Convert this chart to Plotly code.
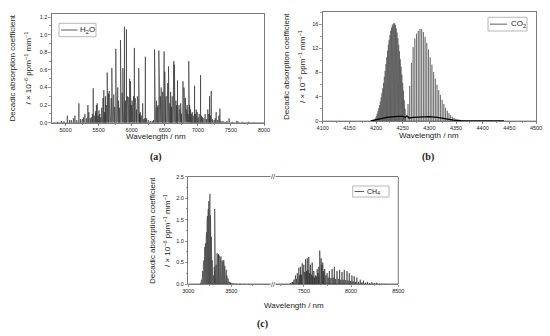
import plotly.graph_objects as go

W, H = 550, 336

# ---------------- data ----------------
# (a) H2O line positions (nm) and decadic absorption coefficients
h2o_nm = [4880, 4936, 4975, 5026, 5060, 5086, 5118, 5141, 5170, 5201, 5226, 5252, 5270, 5292, 5318,
          5337, 5352, 5372, 5388, 5405, 5418, 5435, 5453, 5466, 5478, 5492, 5505, 5518, 5532, 5545,
          5554, 5566, 5578, 5590, 5603, 5615, 5629, 5640, 5648, 5659, 5668, 5679, 5690, 5699, 5710,
          5720, 5729, 5742, 5759, 5768, 5778, 5789, 5800, 5812, 5830, 5840, 5855, 5866, 5876, 5890,
          5905, 5920, 5935, 5945, 5955, 5968, 5980, 5992, 6005, 6018, 6028, 6040, 6052, 6062, 6071,
          6085, 6096, 6106, 6118, 6131, 6145, 6166, 6182, 6197, 6206, 6225, 6250, 6280, 6310, 6330,
          6345, 6355, 6365, 6375, 6385, 6398, 6410, 6420, 6432, 6445, 6455, 6468, 6480, 6490, 6500,
          6512, 6522, 6535, 6545, 6556, 6565, 6576, 6588, 6600, 6612, 6625, 6636, 6645, 6655, 6668,
          6680, 6692, 6705, 6716, 6728, 6740, 6752, 6775, 6790, 6800, 6812, 6825, 6838, 6850, 6862,
          6875, 6888, 6900, 6915, 6930, 6950, 6962, 6975, 6990, 7005, 7020, 7041, 7055, 7070, 7090,
          7110, 7130, 7150, 7165, 7177, 7190, 7202, 7220, 7245, 7262, 7277, 7300, 7318, 7333, 7350,
          7380, 7410, 7440, 7468, 7478, 7520, 7590, 7605, 7680, 7765, 7850]
h2o_val = [0.01, 0.02, 0.015, 0.08, 0.03, 0.03, 0.05, 0.08, 0.03, 0.22, 0.04, 0.04, 0.06, 0.10, 0.05,
           0.20, 0.12, 0.05, 0.06, 0.10, 0.39, 0.08, 0.13, 0.20, 0.22, 0.08, 0.14, 0.10, 0.06, 0.17,
           0.12, 0.28, 0.37, 0.12, 0.30, 0.20, 0.57, 0.18, 0.33, 0.36, 0.12, 0.20, 0.28, 0.62, 0.15,
           0.25, 0.32, 0.18, 0.84, 0.22, 0.14, 0.40, 0.25, 0.17, 0.94, 0.30, 0.34, 0.62, 0.20, 1.09,
           0.25, 1.06, 0.30, 0.18, 0.29, 0.50, 0.47, 0.20, 0.25, 0.15, 0.30, 0.85, 0.28, 0.20, 0.15,
           0.30, 0.22, 0.62, 0.10, 0.12, 0.08, 0.22, 0.04, 0.05, 0.75, 0.05, 0.03, 0.02, 0.02, 0.03,
           0.83, 0.30, 0.12, 0.25, 0.18, 0.20, 0.82, 0.45, 0.30, 0.40, 0.22, 0.35, 0.28, 0.81, 0.58,
           0.25, 0.30, 0.20, 0.45, 0.64, 0.28, 0.22, 0.35, 0.18, 0.30, 0.25, 0.70, 0.66, 0.30, 0.25,
           0.20, 0.48, 0.18, 0.20, 0.15, 0.22, 0.10, 0.47, 0.40, 0.20, 0.28, 0.15, 0.20, 0.10, 0.70,
           0.20, 0.15, 0.10, 0.12, 0.08, 0.42, 0.10, 0.15, 0.12, 0.06, 0.10, 0.54, 0.08, 0.06, 0.05,
           0.10, 0.04, 0.15, 0.10, 0.30, 0.08, 0.36, 0.04, 0.03, 0.05, 0.12, 0.03, 0.08, 0.16, 0.02,
           0.02, 0.01, 0.02, 0.05, 0.04, 0.01, 0.02, 0.015, 0.01, 0.01, 0.005]

# (b) CO2 lines: R branch, P branch, and the weak underlying (hot-band) envelope
co2_r_nm = [4196, 4197.5, 4199, 4200.5, 4202, 4203.5, 4205, 4206.5, 4208, 4209.5, 4211, 4212.5, 4214,
            4215.5, 4217, 4218.5, 4220, 4221.5, 4223, 4224.5, 4226, 4227.5, 4229, 4230.5, 4232, 4233.5,
            4235, 4236.5, 4238, 4239.5, 4241, 4242.5, 4244, 4245.5, 4247, 4248.5, 4250, 4251.5, 4253,
            4254.5, 4256]
co2_r_val = [0.1, 0.3, 0.5, 0.8, 1.2, 1.6, 2.1, 2.6, 3.2, 3.9, 4.6, 5.4, 6.3, 7.3, 8.3, 9.4, 10.5, 11.6,
             12.6, 13.4, 14.2, 14.9, 15.4, 15.8, 16.0, 16.2, 16.1, 15.8, 15.3, 14.6, 13.7, 12.6, 11.5,
             10.2, 9.0, 7.7, 6.3, 5.0, 3.4, 2.0, 0.8]
co2_p_nm = [4260, 4263.2, 4266.4, 4269.6, 4272.8, 4276, 4279.2, 4282.4, 4285.6, 4288.8, 4292, 4295.2,
            4298.4, 4301.6, 4304.8, 4308, 4311.2, 4314.4, 4317.6, 4320.8, 4324, 4327.2, 4330.4, 4333.6,
            4336.8, 4340, 4343.2, 4346.4, 4349.6, 4352.8, 4356, 4359.2, 4362.4, 4365.6, 4368.8, 4372]
co2_p_val = [2.8, 5.8, 9.6, 12.2, 13.6, 14.4, 14.9, 15.2, 15.2, 14.7, 13.9, 12.9, 11.8, 10.5, 9.3, 8.1,
             7.0, 6.0, 5.1, 4.3, 3.5, 2.8, 2.2, 1.7, 1.3, 0.95, 0.7, 0.5, 0.36, 0.25, 0.17, 0.12, 0.08,
             0.05, 0.03, 0.02]
co2_weak_nm = [4190, 4200, 4210, 4220, 4230, 4240, 4250, 4255, 4258, 4262, 4270, 4285, 4300, 4315,
               4330, 4345, 4360, 4400, 4440]
co2_weak_val = [0.0, 0.15, 0.4, 0.6, 0.72, 0.78, 0.75, 0.6, 0.85, 0.5, 0.6, 0.7, 0.72, 0.6, 0.35, 0.15,
                0.06, 0.03, 0.0]

# (c) CH4 lines, left segment (3 µm band) and right segment (7.7 µm band)
ch4_a_nm = [3140, 3148, 3155, 3162, 3168, 3174, 3180, 3186, 3192, 3197, 3202, 3207, 3212, 3217, 3222,
            3227, 3232, 3238, 3243, 3248, 3253, 3258, 3263, 3268, 3273, 3278, 3284, 3290, 3296, 3302,
            3307, 3312, 3318, 3324, 3330, 3335, 3341, 3347, 3352, 3358, 3364, 3370, 3376, 3382, 3388,
            3394, 3400, 3406, 3412, 3418, 3424, 3430, 3436, 3442, 3448, 3454, 3461, 3468, 3476, 3485,
            3495, 3510, 3530, 3560, 3600, 3650, 3700]
ch4_a_val = [0.02, 0.05, 0.10, 0.18, 0.30, 0.42, 0.55, 0.70, 0.86, 0.80, 0.95, 1.05, 1.20, 1.40, 1.58,
             1.50, 1.75, 1.93, 1.80, 2.00, 2.10, 1.60, 1.35, 1.10, 0.80, 0.55, 0.30, 0.15, 0.20, 0.40,
             1.75, 0.50, 0.30, 0.45, 0.62, 0.72, 0.60, 0.68, 0.70, 0.62, 0.66, 0.55, 0.60, 0.64, 0.50,
             0.55, 0.45, 0.52, 0.56, 0.40, 0.42, 0.35, 0.30, 0.33, 0.20, 0.18, 0.13, 0.08, 0.05, 0.04,
             0.03, 0.02, 0.015, 0.01, 0.01, 0.005, 0.005]
ch4_b_nm = [7360, 7377, 7386, 7395, 7404, 7412, 7421, 7430, 7438, 7447, 7456, 7465, 7474, 7483, 7492,
            7500, 7509, 7518, 7527, 7536, 7544, 7552, 7561, 7570, 7579, 7588, 7596, 7605, 7614, 7623,
            7632, 7641, 7650, 7658, 7668, 7675, 7683, 7691, 7700, 7710, 7721, 7733, 7746, 7758, 7770,
            7785, 7799, 7811, 7823, 7837, 7851, 7865, 7879, 7891, 7904, 7916, 7928, 7943, 7957, 7969,
            7981, 7995, 8009, 8021, 8033, 8047, 8061, 8079, 8097, 8114, 8131, 8152, 8173, 8196, 8220,
            8246, 8272, 8300, 8325, 8360]
ch4_b_val = [0.02, 0.05, 0.04, 0.10, 0.08, 0.20, 0.12, 0.25, 0.15, 0.38, 0.20, 0.40, 0.22, 0.48, 0.25,
             0.45, 0.28, 0.58, 0.30, 0.60, 0.32, 0.63, 0.25, 0.45, 0.22, 0.50, 0.18, 0.30, 0.15, 0.20,
             0.18, 0.35, 0.25, 0.40, 0.78, 0.62, 0.60, 0.45, 0.50, 0.30, 0.35, 0.20, 0.25, 0.15, 0.30,
             0.14, 0.35, 0.15, 0.40, 0.12, 0.30, 0.12, 0.33, 0.10, 0.28, 0.10, 0.33, 0.09, 0.30, 0.08,
             0.25, 0.07, 0.20, 0.06, 0.18, 0.05, 0.15, 0.05, 0.10, 0.04, 0.08, 0.03, 0.05, 0.02, 0.04,
             0.02, 0.03, 0.01, 0.01, 0.005]

# x-axis tick labels
ticks_a = [5000, 5500, 6000, 6500, 7000, 7500, 8000]
ticks_b = [4100, 4150, 4200, 4250, 4300, 4350, 4400, 4450, 4500]
ticks_c_left = [3000, 3500]
ticks_c_right = [7500, 8000, 8500]


def sticks(pos, val, x0, x1, hw):
    xs, ys = [x0], [0.0]
    for p, v in zip(pos, val):
        xs += [p - hw, p, p + hw]
        ys += [0.0, v, 0.0]
    xs.append(x1)
    ys.append(0.0)
    return xs, ys


def px(x):
    return x / W


def py(y):
    return 1 - y / H


LINE = dict(color="#262626", width=0.6)
fig = go.Figure()

xa, ya = sticks(h2o_nm, h2o_val, 4800, 8000, 1.0)
fig.add_trace(go.Scatter(x=xa, y=ya, mode="lines", line=LINE, xaxis="x", yaxis="y",
                         name="H2O", showlegend=False, hoverinfo="skip"))

co2_nm = co2_r_nm + co2_p_nm
co2_val = co2_r_val + co2_p_val
xb, yb = sticks(co2_nm, co2_val, 4100, 4500, 0.25)
fig.add_trace(go.Scatter(x=xb, y=yb, mode="lines", line=dict(color="#3c3c3c", width=0.5),
                         xaxis="x2", yaxis="y2", name="CO2", showlegend=False, hoverinfo="skip"))
fig.add_trace(go.Scatter(x=co2_weak_nm, y=co2_weak_val, mode="lines", line=dict(color="#000", width=1.3),
                         xaxis="x2", yaxis="y2", showlegend=False, hoverinfo="skip"))

xc, yc = sticks(ch4_a_nm, ch4_a_val, 3000, 3990, 1.5)
fig.add_trace(go.Scatter(x=xc, y=yc, mode="lines", line=dict(color="#333", width=0.6),
                         xaxis="x3", yaxis="y3", name="CH4", showlegend=False, hoverinfo="skip"))
xd, yd = sticks(ch4_b_nm, ch4_b_val, 7180, 8500, 1.2)
fig.add_trace(go.Scatter(x=xd, y=yd, mode="lines", line=dict(color="#222", width=0.6),
                         xaxis="x4", yaxis="y3", showlegend=False, hoverinfo="skip"))

TF = dict(family="Liberation Sans, Arial", size=5.5, color="#222")
AX = dict(showgrid=False, zeroline=False, showline=True, linecolor="#5a5a5a", linewidth=0.8,
          ticks="outside", ticklen=2.5, tickwidth=0.6, tickcolor="#5a5a5a", tickfont=TF,
          automargin=False, fixedrange=True)
XAX = dict(AX, ticklabelstandoff=-1)
MINOR = dict(ticklen=1.5, tickcolor="#5a5a5a", tickwidth=0.6)

a_dom_x = [px(51.7), px(264)]
a_dom_y = [py(122.7), py(14)]
b_dom_x = [px(322.7), px(536)]
b_dom_y = [py(121), py(12)]
c_dom_y = [py(284), py(176.7)]
c_left = [px(188.3), px(272.6)]
c_right = [px(274.0), px(398.3)]

fig.update_layout(
    width=W, height=H, margin=dict(l=0, r=0, t=0, b=0, autoexpand=False),
    paper_bgcolor="white", plot_bgcolor="white", showlegend=False,
    xaxis=dict(XAX, domain=a_dom_x, anchor="y", range=[4790, 8000], tickvals=ticks_a, mirror=True,
               minor=dict(MINOR, tickvals=[4750 + 250 * i for i in range(14)])),
    yaxis=dict(AX, domain=a_dom_y, anchor="x", range=[0, 1.235], dtick=0.2, tickformat=".1f", mirror=True,
               minor=dict(MINOR, dtick=0.1)),
    xaxis2=dict(XAX, domain=b_dom_x, anchor="y2", range=[4100, 4500], tickvals=ticks_b, mirror=True,
                minor=dict(MINOR, dtick=25)),
    yaxis2=dict(AX, domain=b_dom_y, anchor="x2", range=[0, 18], dtick=4, mirror=True,
                minor=dict(MINOR, dtick=2)),
    xaxis3=dict(XAX, domain=c_left, anchor="y3", range=[3000, 3980], tickvals=ticks_c_left, mirror=True,
                minor=dict(MINOR, tickvals=[3250, 3750])),
    xaxis4=dict(XAX, domain=c_right, anchor="y3", range=[7184, 8500], tickvals=ticks_c_right, mirror=True,
                minor=dict(MINOR, tickvals=[7250, 7750, 8250])),
    yaxis3=dict(AX, domain=c_dom_y, anchor="x3", range=[0, 2.5], dtick=0.5, tickformat=".1f", mirror=False,
                minor=dict(MINOR, dtick=0.25)),
)

shapes = [
    # right edge of the broken panel (c)
    dict(type="line", xref="paper", yref="paper", x0=c_right[1], x1=c_right[1], y0=c_dom_y[0], y1=c_dom_y[1],
         line=dict(color="#5a5a5a", width=0.8)),
]
annotations = []

TXT = "Liberation Sans, Arial"
ytitle1 = "Decadic absorption coefficient"
ytitle2 = "/ × 10<sup>−6</sup> ppm<sup>−1</sup> mm<sup>−1</sup>"
xtitle = "Wavelength / nm"


def ann(text, x, y, size, xanchor="center", angle=0, family=TXT, **kw):
    annotations.append(dict(text=text, x=px(x), y=py(y), xref="paper", yref="paper", showarrow=False,
                            xanchor=xanchor, yanchor="middle", textangle=angle,
                            font=dict(family=family, size=size, color="#222"), **kw))


def add_titles(x1, x2, yc, xc, xy):
    ann(ytitle1, x1, yc, 8, angle=-90)
    ann(ytitle2, x2, yc, 8, angle=-90)
    ann(xtitle, xc, xy, 8)


add_titles(12.5, 27.5, 68, 156, 136.5)
add_titles(287, 302, 67, 429, 135.5)
add_titles(152, 167, 231, 294, 305)


def add_legend(bx0, bx1, by0, by1, lx0, lx1, tx, label, fs):
    yc = (by0 + by1) / 2
    shapes.append(dict(type="rect", xref="paper", yref="paper", x0=px(bx0), x1=px(bx1), y0=py(by1), y1=py(by0),
                       line=dict(color="#9a9a9a", width=0.7), fillcolor="white", layer="above"))
    shapes.append(dict(type="line", xref="paper", yref="paper", x0=px(lx0), x1=px(lx1), y0=py(yc), y1=py(yc),
                       line=dict(color="#333", width=0.8), layer="above"))
    ann(label, tx, yc, fs, xanchor="left")


add_legend(59, 96, 23.3, 36.7, 61, 77.5, 78, "H<sub>2</sub>O", 8)
add_legend(488, 527, 17.3, 31, 490, 507, 508.5, "CO<sub>2</sub>", 8)
add_legend(352.7, 389, 186, 197, 354.5, 364, 365, "CH<sub>4</sub>", 7)

# panel labels
for lab, x, y in [("(a)", 156, 157), ("(b)", 428, 157), ("(c)", 262, 324)]:
    ann("<b>" + lab + "</b>", x, y, 10, family="Liberation Serif, DejaVu Serif")

# axis break marks
for yb_ in (176.7, 284):
    ann("//", 273.3, yb_, 7, bgcolor="white", borderpad=0)

fig.update_layout(shapes=shapes, annotations=annotations)
fig.write_html("out.html", config={"displayModeBar": False, "staticPlot": True},
               post_script="document.body.style.margin='0';")
